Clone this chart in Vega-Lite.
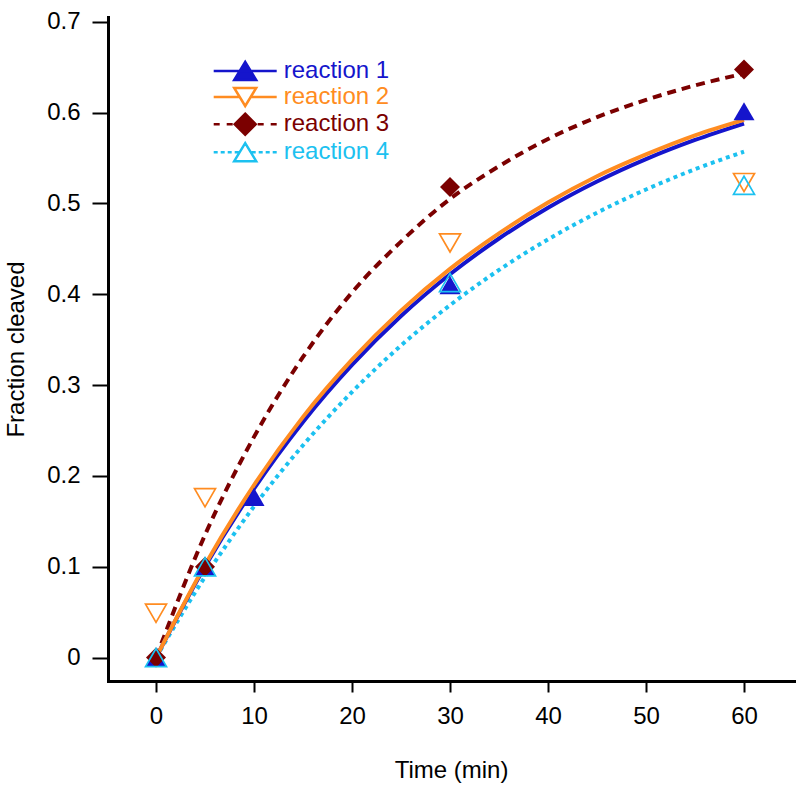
{
  "$schema": "https://vega.github.io/schema/vega-lite/v6.json",
  "width": 686,
  "height": 664,
  "autosize": {"type": "none"},
  "padding": {"left": 108, "top": 17, "right": 6, "bottom": 106},
  "background": "white",
  "config": {
    "view": {"stroke": null},
    "font": "Liberation Sans",
    "axis": {
      "grid": false,
      "domainColor": "black",
      "domainWidth": 3,
      "domainCap": "square",
      "tickColor": "black",
      "tickWidth": 2,
      "labelColor": "black",
      "titleColor": "black",
      "labelFontSize": 24,
      "titleFontSize": 24,
      "titleFontWeight": "normal",
      "labelFont": "Liberation Sans",
      "titleFont": "Liberation Sans"
    }
  },
  "datasets": {
    "curves": [
      {"series": "reaction 1", "t": 0, "y": 0},
      {"series": "reaction 1", "t": 5, "y": 0.1002},
      {"series": "reaction 1", "t": 10, "y": 0.186},
      {"series": "reaction 1", "t": 15, "y": 0.2594},
      {"series": "reaction 1", "t": 20, "y": 0.3222},
      {"series": "reaction 1", "t": 25, "y": 0.376},
      {"series": "reaction 1", "t": 30, "y": 0.422},
      {"series": "reaction 1", "t": 35, "y": 0.4614},
      {"series": "reaction 1", "t": 40, "y": 0.4952},
      {"series": "reaction 1", "t": 45, "y": 0.5241},
      {"series": "reaction 1", "t": 50, "y": 0.5488},
      {"series": "reaction 1", "t": 55, "y": 0.5699},
      {"series": "reaction 1", "t": 60, "y": 0.588},
      {"series": "reaction 2", "t": 0, "y": 0},
      {"series": "reaction 2", "t": 5, "y": 0.102},
      {"series": "reaction 2", "t": 10, "y": 0.19},
      {"series": "reaction 2", "t": 15, "y": 0.265},
      {"series": "reaction 2", "t": 20, "y": 0.328},
      {"series": "reaction 2", "t": 25, "y": 0.382},
      {"series": "reaction 2", "t": 30, "y": 0.428},
      {"series": "reaction 2", "t": 35, "y": 0.467},
      {"series": "reaction 2", "t": 40, "y": 0.501},
      {"series": "reaction 2", "t": 45, "y": 0.53},
      {"series": "reaction 2", "t": 50, "y": 0.554},
      {"series": "reaction 2", "t": 55, "y": 0.575},
      {"series": "reaction 2", "t": 60, "y": 0.592},
      {"series": "reaction 3", "t": 0, "y": 0},
      {"series": "reaction 3", "t": 5, "y": 0.135},
      {"series": "reaction 3", "t": 10, "y": 0.243},
      {"series": "reaction 3", "t": 15, "y": 0.331},
      {"series": "reaction 3", "t": 20, "y": 0.402},
      {"series": "reaction 3", "t": 25, "y": 0.458},
      {"series": "reaction 3", "t": 30, "y": 0.505},
      {"series": "reaction 3", "t": 35, "y": 0.541},
      {"series": "reaction 3", "t": 40, "y": 0.571},
      {"series": "reaction 3", "t": 45, "y": 0.595},
      {"series": "reaction 3", "t": 50, "y": 0.614},
      {"series": "reaction 3", "t": 55, "y": 0.63},
      {"series": "reaction 3", "t": 60, "y": 0.643},
      {"series": "reaction 4", "t": 0, "y": 0},
      {"series": "reaction 4", "t": 5, "y": 0.0889},
      {"series": "reaction 4", "t": 10, "y": 0.1664},
      {"series": "reaction 4", "t": 15, "y": 0.2338},
      {"series": "reaction 4", "t": 20, "y": 0.2924},
      {"series": "reaction 4", "t": 25, "y": 0.3436},
      {"series": "reaction 4", "t": 30, "y": 0.388},
      {"series": "reaction 4", "t": 35, "y": 0.4268},
      {"series": "reaction 4", "t": 40, "y": 0.4605},
      {"series": "reaction 4", "t": 45, "y": 0.4898},
      {"series": "reaction 4", "t": 50, "y": 0.5154},
      {"series": "reaction 4", "t": 55, "y": 0.5377},
      {"series": "reaction 4", "t": 60, "y": 0.557}
    ],
    "points": [
      {"series": "reaction 1", "t": 0, "y": 0},
      {"series": "reaction 1", "t": 5, "y": 0.1},
      {"series": "reaction 1", "t": 10, "y": 0.177},
      {"series": "reaction 1", "t": 30, "y": 0.41},
      {"series": "reaction 1", "t": 60, "y": 0.6015},
      {"series": "reaction 2", "t": 0, "y": 0.0488},
      {"series": "reaction 2", "t": 5, "y": 0.176},
      {"series": "reaction 2", "t": 30, "y": 0.4565},
      {"series": "reaction 2", "t": 60, "y": 0.523},
      {"series": "reaction 3", "t": 0, "y": 0},
      {"series": "reaction 3", "t": 5, "y": 0.1},
      {"series": "reaction 3", "t": 30, "y": 0.518},
      {"series": "reaction 3", "t": 60, "y": 0.6475},
      {"series": "reaction 4", "t": 0, "y": 0},
      {"series": "reaction 4", "t": 5, "y": 0.1},
      {"series": "reaction 4", "t": 30, "y": 0.413},
      {"series": "reaction 4", "t": 60, "y": 0.52}
    ]
  },
  "encoding": {
    "x": {
      "field": "t",
      "type": "quantitative",
      "scale": {"domain": [-4.9, 65.1], "nice": false, "zero": false},
      "axis": {
        "title": "Time (min)",
        "values": [0, 10, 20, 30, 40, 50, 60],
        "tickSize": 11,
        "labelPadding": 12,
        "titlePadding": 30
      }
    },
    "y": {
      "field": "y",
      "type": "quantitative",
      "scale": {"domain": [-0.0258, 0.7053], "nice": false, "zero": false},
      "axis": {
        "title": "Fraction cleaved",
        "values": [0, 0.1, 0.2, 0.3, 0.4, 0.5, 0.6, 0.7],
        "format": "~g",
        "tickSize": 16,
        "labelPadding": 12,
        "titlePadding": 18,
        "encode": {"ticks": {"update": {"x": {"value": -5}}}}
      }
    },
    "color": {
      "field": "series",
      "type": "nominal",
      "scale": {
        "domain": ["reaction 1", "reaction 2", "reaction 3", "reaction 4"],
        "range": ["#1515CC", "#FF8C21", "#7B0000", "#1CC1F0"]
      },
      "legend": {
        "title": null,
        "orient": "none",
        "legendX": 125.2,
        "legendY": 42,
        "padding": 0,
        "symbolSize": 400,
        "symbolStrokeWidth": 2.5,
        "labelOffset": 26.5,
        "labelFontSize": 24,
        "labelFont": "Liberation Sans",
        "rowPadding": -2.8,
        "encode": {
          "symbols": {
            "update": {
              "shape": {"signal": "datum.value === 'reaction 1' ? 'M-3.15,0L3.15,0M0,-0.9L1.1,0.9L-1.1,0.9Z' : datum.value === 'reaction 2' ? 'M-3.15,0L-0.55,0M0.55,0L3.15,0M-1.1,-0.9L1.1,-0.9L0,0.9Z' : datum.value === 'reaction 3' ? 'M-3.15,0L-2.55,0M-1.85,0L-1.25,0M1.25,0L1.85,0M2.55,0L3.15,0M0,-1.05L1.05,0L0,1.05L-1.05,0Z' : 'M-3.15,0L-2.75,0M-2.45,0L-2.05,0M-1.75,0L-1.35,0M-1.05,0L-0.65,0M0.65,0L1.05,0M1.35,0L1.75,0M2.05,0L2.45,0M2.75,0L3.15,0M0,-0.9L1.1,0.9L-1.1,0.9Z'"},
              "fill": {"scale": "color", "field": "value"},
              "fillOpacity": {"signal": "datum.value === 'reaction 1' || datum.value === 'reaction 3' ? 1 : 0"},
              "stroke": {"scale": "color", "field": "value"},
              "strokeWidth": {"value": 2.5},
              "strokeDash": {"value": []},
              "opacity": {"value": 1}
            }
          },
          "labels": {"update": {"fill": {"scale": "color", "field": "value"}}}
        }
      }
    }
  },
  "layer": [
    {
      "data": {"name": "curves"},
      "transform": [{"filter": "datum.series === 'reaction 3'"}],
      "mark": {"type": "line", "strokeWidth": 4, "interpolate": "monotone", "strokeDash": [9, 6]}
    },
    {
      "data": {"name": "curves"},
      "transform": [{"filter": "datum.series === 'reaction 4'"}],
      "mark": {"type": "line", "strokeWidth": 4, "interpolate": "monotone", "strokeDash": [4, 4]}
    },
    {
      "data": {"name": "curves"},
      "transform": [{"filter": "datum.series === 'reaction 1'"}],
      "mark": {"type": "line", "strokeWidth": 4, "interpolate": "monotone"}
    },
    {
      "data": {"name": "curves"},
      "transform": [{"filter": "datum.series === 'reaction 2'"}],
      "mark": {"type": "line", "strokeWidth": 4, "interpolate": "monotone"}
    },
    {
      "data": {"name": "points"},
      "transform": [{"filter": "datum.series === 'reaction 1'"}],
      "mark": {"type": "point", "shape": "triangle-up", "filled": true, "size": 440, "opacity": 1}
    },
    {
      "data": {"name": "points"},
      "transform": [{"filter": "datum.series === 'reaction 2'"}],
      "mark": {"type": "point", "shape": "triangle-down", "filled": false, "size": 440, "strokeWidth": 1.7, "opacity": 1}
    },
    {
      "data": {"name": "points"},
      "transform": [{"filter": "datum.series === 'reaction 3'"}],
      "mark": {"type": "point", "shape": "diamond", "filled": true, "size": 400, "opacity": 1}
    },
    {
      "data": {"name": "points"},
      "transform": [{"filter": "datum.series === 'reaction 4'"}],
      "mark": {"type": "point", "shape": "triangle-up", "filled": false, "size": 440, "strokeWidth": 1.7, "opacity": 1}
    }
  ]
}
